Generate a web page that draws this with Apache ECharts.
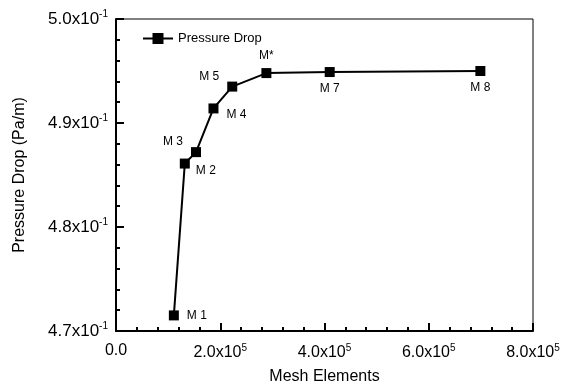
<!DOCTYPE html>
<html>
<head>
<meta charset="utf-8">
<script src="https://cdn.jsdelivr.net/npm/echarts@6/dist/echarts.min.js"></script>
<style>
  html, body { margin: 0; padding: 0; background: #fff; }
  #chart { width: 565px; height: 390px; }
</style>
</head>
<body>
<div id="chart"></div>
<script>
// mesh study values
const meshNames = ['M 1', 'M 2', 'M 3', 'M 4', 'M 5', 'M*', 'M 7', 'M 8'];
const meshElements = [111000, 132000, 153500, 187000, 223000, 288500, 410000, 699000];
const pressureDrop = [0.4715, 0.4861, 0.4872, 0.4914, 0.4935, 0.4948, 0.4949, 0.4950];

const yTicks = ['4.7', '4.8', '4.9', '5.0'];
const xTicks = ['0.0', '2.0', '4.0', '6.0', '8.0'];

const labelPlace = ['right', 'right', 'left', 'right', 'left', 'top', 'bottom', 'bottom'];
const labelOffset = [[2, 0], [0, 7], [-2, -10], [2, 6], [-2, -10], [0, 0], [0, 0], [0, 0]];

const font = 'Liberation Sans, Arial, sans-serif';

const seriesData = meshElements.map((x, i) => ({
    value: [x, pressureDrop[i]],
    name: meshNames[i],
    label: { position: labelPlace[i], offset: labelOffset[i] }
}));

const option = {
    animation: false,
    backgroundColor: '#fff',
    textStyle: { fontFamily: font, color: '#000' },
    grid: {
        left: 116, right: 32, top: 19, bottom: 58,
        show: true, borderColor: '#000', borderWidth: 1
    },
    legend: {
        left: 138, top: 27,
        itemWidth: 30, itemHeight: 11,
        itemGap: 4,
        textStyle: { fontSize: 13, fontFamily: font, color: '#000' },
        data: [{
            name: 'Pressure Drop',
            // line with a square marker, like the original legend key
            icon: 'path://M0,4.5H30V6.5H0Z M9.5,0H20.5V11H9.5Z'
        }]
    },
    xAxis: {
        type: 'value',
        min: 0, max: 800000, interval: 200000,
        name: 'Mesh Elements',
        nameLocation: 'middle',
        nameGap: 38,
        nameTextStyle: { fontSize: 16, fontFamily: font, color: '#000' },
        axisLine: { onZero: false, lineStyle: { color: '#000', width: 2 } },
        axisTick: { inside: true, length: 8, lineStyle: { color: '#000', width: 2 } },
        minorTick: { show: true, splitNumber: 5, length: 4, lineStyle: { color: '#000', width: 2 } },
        splitLine: { show: false },
        axisLabel: {
            margin: 12,
            formatter: function (v) {
                const i = Math.round(v / 200000);
                return i === 0 ? '{b|' + xTicks[0] + '}' : '{b|' + xTicks[i] + 'x10}{s|5}';
            },
            rich: {
                b: { fontSize: 16, fontFamily: font, color: '#000' },
                s: { fontSize: 10, fontFamily: font, color: '#000', padding: [0, 0, 9, 0] }
            }
        }
    },
    yAxis: {
        type: 'value',
        min: 0.47, max: 0.50, interval: 0.01,
        name: 'Pressure Drop (Pa/m)',
        nameLocation: 'middle',
        nameGap: 88,
        nameTextStyle: { fontSize: 16, fontFamily: font, color: '#000' },
        axisLine: { onZero: false, lineStyle: { color: '#000', width: 2 } },
        axisTick: { inside: true, length: 8, lineStyle: { color: '#000', width: 2 } },
        minorTick: { show: true, splitNumber: 5, length: 4, lineStyle: { color: '#000', width: 2 } },
        splitLine: { show: false },
        axisLabel: {
            margin: 8,
            formatter: function (v) {
                const i = Math.round((v - 0.47) / 0.01);
                return '{b|' + yTicks[i] + 'x10}{s|-1}';
            },
            rich: {
                b: { fontSize: 17, fontFamily: font, color: '#000' },
                s: { fontSize: 10, fontFamily: font, color: '#000', padding: [0, 0, 9, 0] }
            }
        }
    },
    series: [{
        name: 'Pressure Drop',
        type: 'line',
        data: seriesData,
        symbol: 'rect',
        symbolSize: 10,
        itemStyle: { color: '#000' },
        lineStyle: { color: '#000', width: 2 },
        label: {
            show: true,
            formatter: '{b}',
            fontSize: 12,
            fontFamily: font,
            color: '#000',
            distance: 6
        }
    }]
};

const chart = echarts.init(document.getElementById('chart'));
chart.setOption(option);
</script>
</body>
</html>
